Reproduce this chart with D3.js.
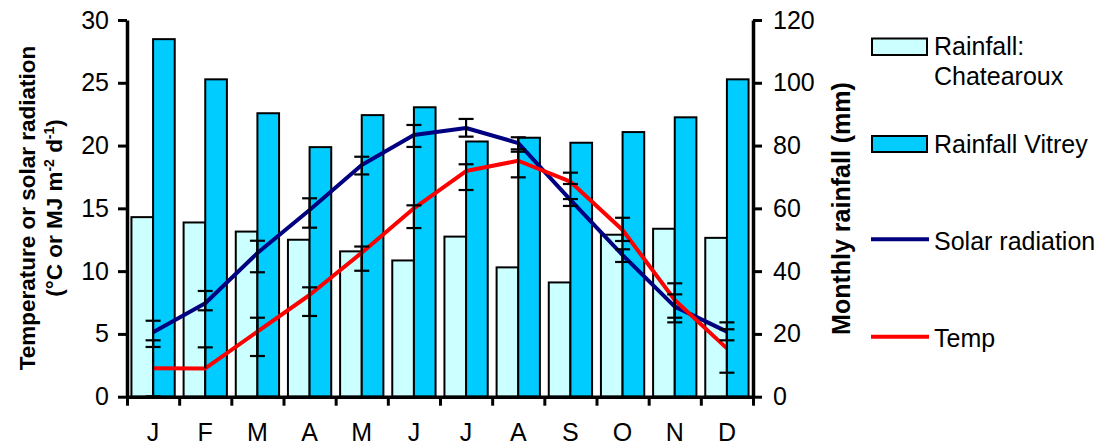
<!DOCTYPE html>
<html>
<head>
<meta charset="utf-8">
<script src="https://cdn.jsdelivr.net/npm/d3@7"></script>
<style>
  html, body { margin: 0; padding: 0; background: #fff; }
  svg { display: block; font-family: "Liberation Sans", Arial, sans-serif; }
</style>
</head>
<body>
<svg id="chart" width="1107" height="448"></svg>
<script>
// ---------------- data ----------------
const months = ["J","F","M","A","M","J","J","A","S","O","N","D"];
const rainChatearoux = [57.2,55.5,52.6,50.0,46.3,43.4,51.0,41.2,36.4,51.6,53.5,50.6];
const rainVitrey = [113.9,101.1,90.3,79.5,89.7,92.2,81.3,82.5,80.9,84.3,89.0,101.1];
const solar = [5.14,7.44,11.44,14.87,18.45,20.84,21.40,20.20,15.67,11.28,7.17,5.18];
const temp = [2.26,2.25,5.18,8.10,11.47,15.0,17.97,18.79,17.12,13.28,7.70,3.85];
const solarErrLow  = [3.96,6.88,9.91,13.46,17.7,19.89,20.71,19.70,15.19,10.73,6.29,4.49];
const solarErrHigh = [6.05,8.42,12.42,15.8,19.11,21.64,22.12,20.66,15.74,11.74,8.15,5.92];
const tempErrLow   = [0.03,null,3.24,6.43,10.03,13.43,16.46,17.47,16.94,12.40,5.92,1.91];
const tempErrHigh  = [4.49,3.93,6.29,8.71,11.96,15.24,18.51,19.51,17.84,14.25,9.03,5.37];
const leftTicks = [0,5,10,15,20,25,30];
const rightTicks = [0,20,40,60,80,100,120];

// ---------------- layout ----------------
const svg = d3.select("#chart");
const X0 = 127, X1 = 753, Y0 = 396.7, Y1 = 20;
const idx = d3.range(months.length);

const x = d3.scaleBand().domain(idx).range([X0, X1]).paddingInner(0.17).paddingOuter(0.085);
const xs = d3.scaleBand().domain([0,1]).range([0, x.bandwidth()]);
const xb = d3.scaleLinear().domain([0, months.length]).range([X0, X1]);
const yL = d3.scaleLinear().domain([0,30]).range([Y0, Y1]);
const yR = d3.scaleLinear().domain([0,120]).range([Y0, Y1]);
const cx = i => x(i) + x.bandwidth()/2;

// bars
const g = svg.append("g");
g.selectAll("rect.c").data(rainChatearoux).join("rect")
  .attr("x", (d,i) => x(i) + xs(0)).attr("width", xs.bandwidth())
  .attr("y", d => yR(d)).attr("height", d => Y0 - yR(d))
  .attr("fill", "#CCFFFF").attr("stroke", "#000").attr("stroke-width", 2);
g.selectAll("rect.v").data(rainVitrey).join("rect")
  .attr("x", (d,i) => x(i) + xs(1)).attr("width", xs.bandwidth())
  .attr("y", d => yR(d)).attr("height", d => Y0 - yR(d))
  .attr("fill", "#00CCFF").attr("stroke", "#000").attr("stroke-width", 2);

// lines
const line = d3.line().x((d,i) => cx(i)).y(d => yL(d));
svg.append("path").datum(solar).attr("d", line)
  .attr("fill","none").attr("stroke","#000080").attr("stroke-width",4).attr("stroke-linejoin","round");
svg.append("path").datum(temp).attr("d", line)
  .attr("fill","none").attr("stroke","#FF0000").attr("stroke-width",4).attr("stroke-linejoin","round");

// error bars
function errBars(center, lo, hi) {
  const eg = svg.append("g").attr("stroke","#000").attr("stroke-width",2.2);
  idx.forEach(i => {
    const top = hi[i] != null ? hi[i] : center[i];
    const bot = lo[i] != null ? lo[i] : center[i];
    eg.append("line").attr("x1", cx(i)).attr("x2", cx(i)).attr("y1", yL(top)).attr("y2", yL(bot));
    [lo[i], hi[i]].forEach(v => {
      if (v == null) return;
      eg.append("line").attr("x1", cx(i)-7.5).attr("x2", cx(i)+7.5).attr("y1", yL(v)).attr("y2", yL(v));
    });
  });
}
errBars(solar, solarErrLow, solarErrHigh);
errBars(temp, tempErrLow, tempErrHigh);

// axes
const axL = svg.append("g").attr("transform", `translate(${X0},0)`)
  .call(d3.axisLeft(yL).tickValues(leftTicks).tickSize(9).tickSizeOuter(0).tickPadding(9));
const axR = svg.append("g").attr("transform", `translate(${X1},0)`)
  .call(d3.axisRight(yR).tickValues(rightTicks).tickSize(9).tickSizeOuter(0).tickPadding(11));
const axB = svg.append("g").attr("transform", `translate(0,${Y0})`)
  .call(d3.axisBottom(xb).tickValues(d3.range(months.length+1)).tickFormat("").tickSize(9).tickSizeOuter(0));
const axBL = svg.append("g").attr("transform", `translate(0,${Y0})`)
  .call(d3.axisBottom(x).tickFormat(i => months[i]).tickSize(0).tickPadding(27));
axBL.select(".domain").remove();
[axL, axR, axB].forEach(a => {
  a.select(".domain").attr("stroke","#000").attr("stroke-width",3.5);
  a.selectAll(".tick line").attr("stroke","#000").attr("stroke-width",3);
});
svg.selectAll(".tick text").attr("font-size", 25).attr("fill","#000")
  .attr("font-family", '"Liberation Sans", Arial, sans-serif');

// axis titles
const lt = svg.append("text").attr("transform", "translate(35,208) rotate(-90)")
  .attr("text-anchor","middle").attr("font-weight","bold").attr("font-size",22.5);
lt.append("tspan").text("Temperature or solar radiation");
const lt2 = svg.append("text").attr("transform", "translate(62,208) rotate(-90)")
  .attr("text-anchor","middle").attr("font-weight","bold").attr("font-size",22.5);
lt2.append("tspan").text("(°C or MJ m");
lt2.append("tspan").text("-2").attr("font-size",14).attr("baseline-shift","super");
lt2.append("tspan").text(" d");
lt2.append("tspan").text("-1").attr("font-size",14).attr("baseline-shift","super");
lt2.append("tspan").text(")");

svg.append("text").attr("transform", "translate(850,208.5) rotate(-90)")
  .attr("text-anchor","middle").attr("font-weight","bold").attr("font-size",25)
  .text("Monthly rainfall (mm)");

// legend
const lg = svg.append("g").attr("font-size",25);
lg.append("rect").attr("x",872).attr("y",38.5).attr("width",55).attr("height",16.5)
  .attr("fill","#CCFFFF").attr("stroke","#000").attr("stroke-width",2);
lg.append("text").attr("x",934).attr("y",55).text("Rainfall:");
lg.append("text").attr("x",934).attr("y",85).text("Chatearoux");
lg.append("rect").attr("x",872).attr("y",136).attr("width",55).attr("height",16)
  .attr("fill","#00CCFF").attr("stroke","#000").attr("stroke-width",2);
lg.append("text").attr("x",934).attr("y",153).text("Rainfall Vitrey");
lg.append("line").attr("x1",871).attr("x2",929).attr("y1",239.3).attr("y2",239.3)
  .attr("stroke","#000080").attr("stroke-width",4);
lg.append("text").attr("x",934).attr("y",250).text("Solar radiation");
lg.append("line").attr("x1",871).attr("x2",929).attr("y1",336.7).attr("y2",336.7)
  .attr("stroke","#FF0000").attr("stroke-width",4);
lg.append("text").attr("x",934).attr("y",347).text("Temp");
</script>
</body>
</html>
